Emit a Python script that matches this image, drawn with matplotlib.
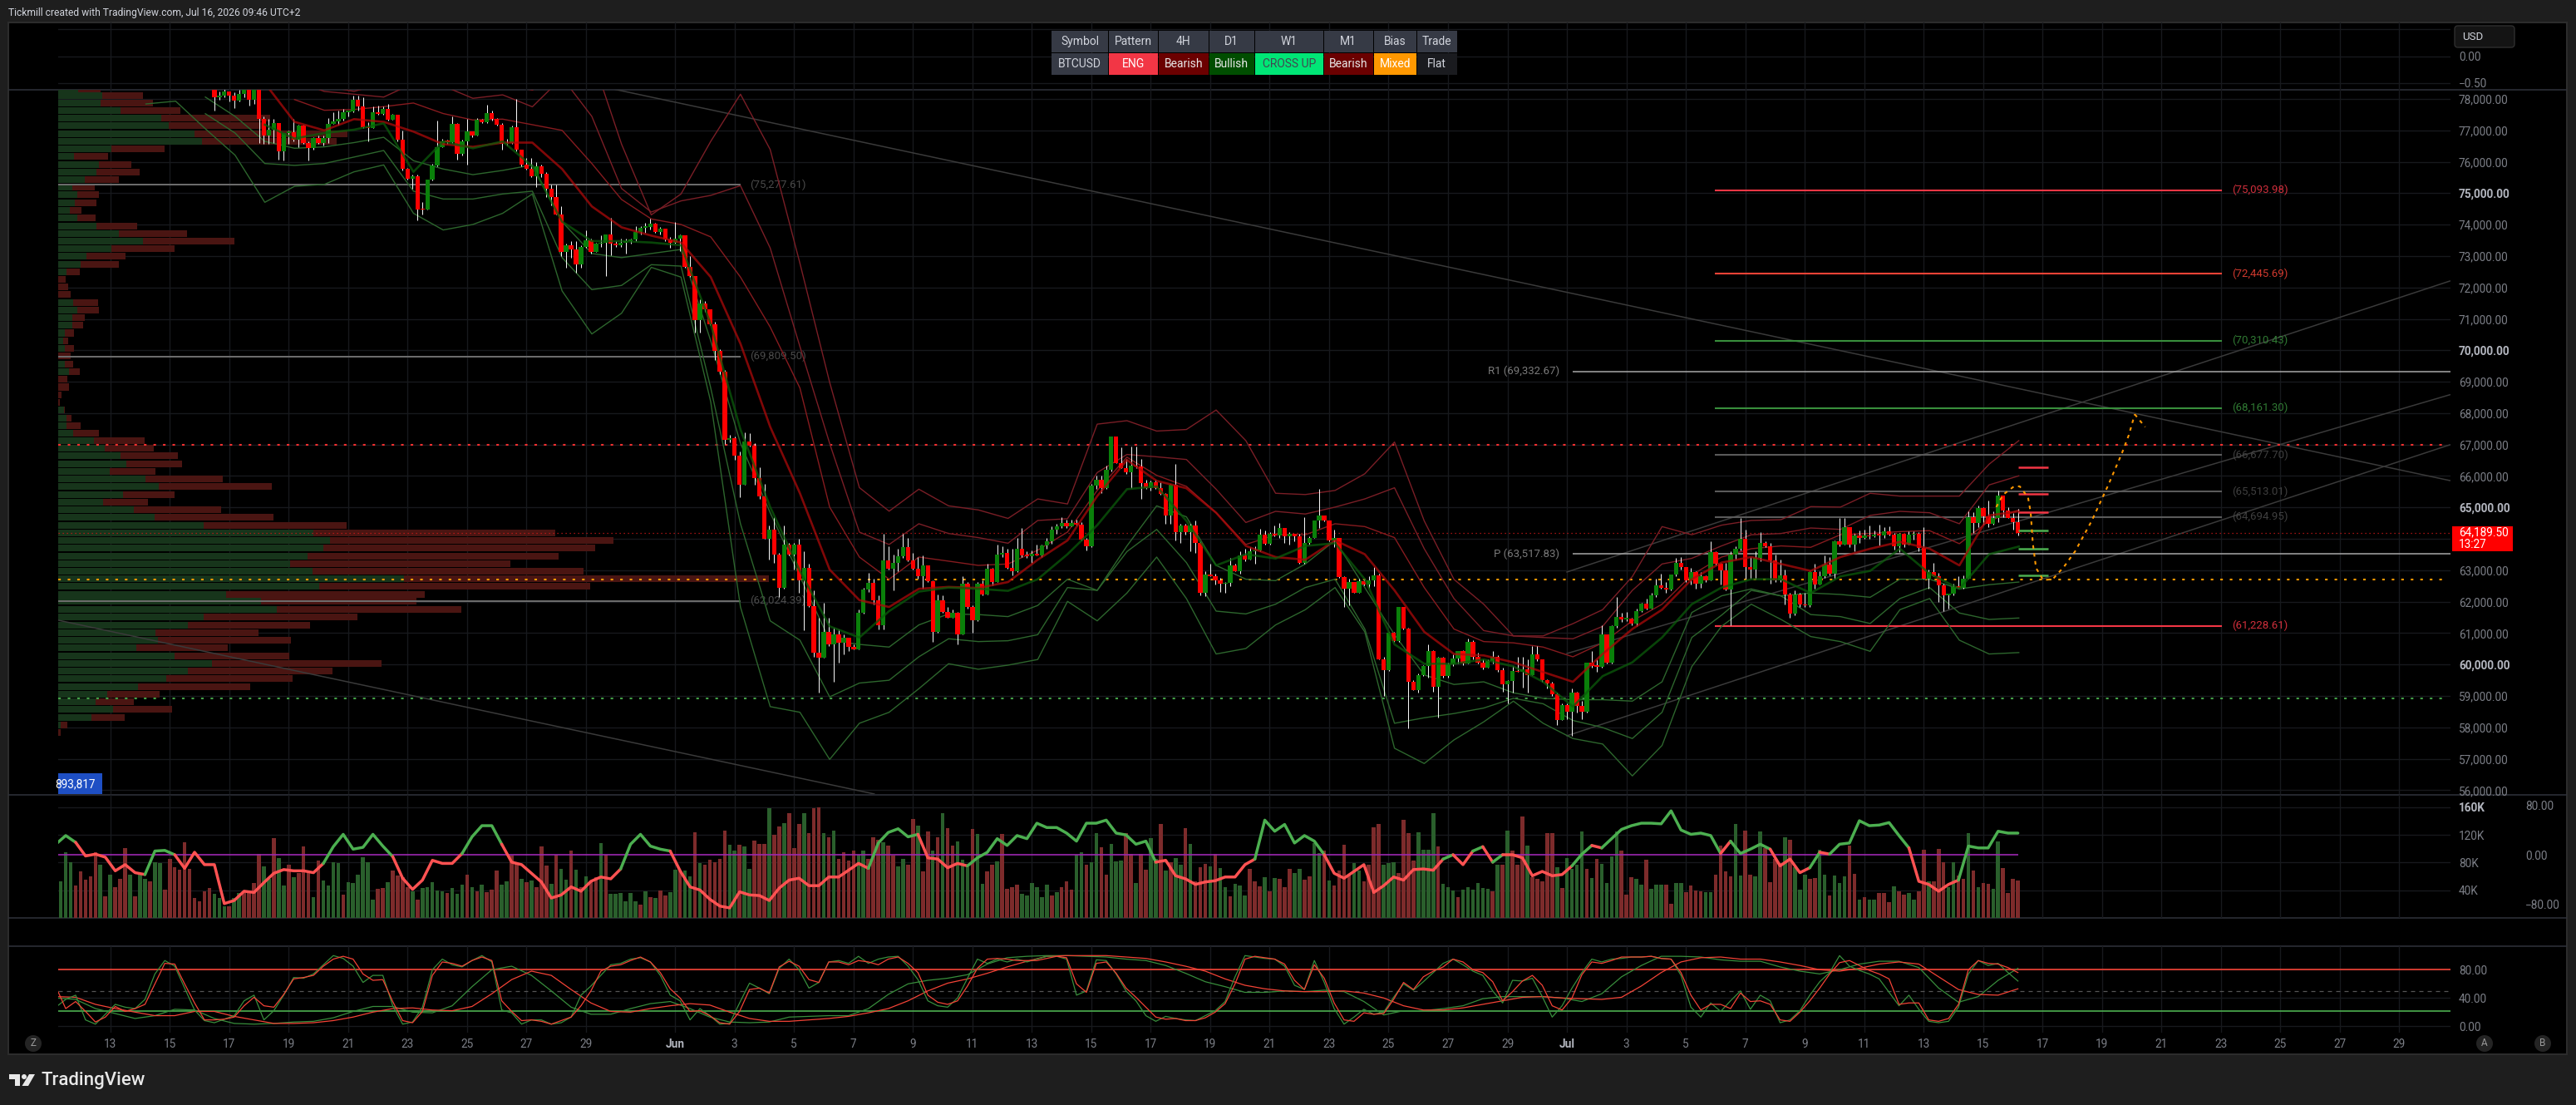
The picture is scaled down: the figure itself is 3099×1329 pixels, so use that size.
import numpy as np
import matplotlib
matplotlib.use('Agg')
import matplotlib.pyplot as plt
from matplotlib.patches import Rectangle, Circle, Polygon, FancyBboxPatch

nan = float('nan')

# BTCUSD 4H candles, prices in tens of USD. Opens follow the previous close.
first_open = 7831
close_1 = [7804,7811,7824,7811,7796,7815,7828,7797,7828,7736,7683,7703,7722,7634,7692,7693,7669,7714,7661,7643,7676,7661,7676,7720,7729,7737,7758,7759,7797,7775,7709,7707,7758,7752,7769,7734,7749,7669,7577,7546,7555,7449,7447,7543,7589,7646,7665,7663,7721,7625,7665,7696,7683,7734,7727,7755,7736,7718,7656,7661,7709,7639,7590,7579,7553,7586,7561,7515,7489,7431,7312,7334,7321,7274,7330,7349,7314,7339,7343,7368,7339,7334,7341,7348,7352,7376,7390,7392,7402,7376,7387,7352,7343,7355,7365,7266,7237,7096,7149,7130,7083,6999,6933,6714]
high_1 = [7833,7824,7833,7824,7820,7828,7833,7831,7831,7831,7745,7736,7736,7722,7692,7700,7736,7718,7718,7665,7678,7683,7683,7740,7758,7762,7767,7764,7811,7811,7806,7727,7775,7780,7775,7784,7753,7736,7700,7581,7559,7559,7471,7543,7594,7731,7674,7669,7745,7722,7669,7736,7696,7740,7736,7781,7762,7740,7722,7674,7714,7799,7639,7612,7612,7599,7590,7568,7528,7528,7458,7339,7348,7348,7334,7383,7356,7343,7365,7369,7422,7348,7356,7356,7356,7396,7396,7405,7418,7405,7392,7387,7361,7409,7369,7367,7299,7237,7162,7158,7131,7092,7004,6937]
low_1 = [7762,7797,7806,7793,7771,7793,7806,7780,7784,7661,7656,7656,7661,7608,7603,7656,7665,7647,7656,7603,7639,7656,7652,7661,7722,7718,7731,7745,7758,7762,7707,7665,7714,7749,7749,7731,7734,7665,7572,7542,7515,7414,7431,7462,7540,7586,7661,7656,7661,7608,7621,7590,7678,7683,7722,7722,7731,7714,7639,7652,7656,7634,7586,7575,7550,7519,7550,7489,7462,7431,7299,7264,7295,7246,7264,7326,7308,7312,7330,7237,7303,7330,7330,7308,7339,7348,7369,7374,7385,7374,7369,7348,7326,7339,7317,7264,7233,7056,7056,7123,7079,6968,6924,6703]

close_2 = [6720,6664,6573,6711,6697,6593,6534,6401,6430,6351,6245,6382,6351,6382,6267,6307,6185,6038,6023,6104,6064,6095]
high_2 = [6730,6726,6677,6739,6737,6704,6629,6576,6443,6470,6355,6443,6386,6386,6399,6360,6320,6236,6148,6197,6148,6117]
low_2 = [6708,6651,6532,6571,6693,6571,6527,6399,6333,6324,6214,6241,6346,6302,6227,6108,6183,6024,5910,6024,6060,5945]

close_3 = [6070,6086,6055,6049,6164,6238,6260,6205,6126,6331,6305,6323,6344,6373,6331,6305,6282,6316,6264,6104,6205,6166,6150,6164,6097,6258,6183,6142,6258,6223,6304,6263,6351,6355,6307,6298,6369,6346,6345,6353,6348,6379,6393,6428,6441,6450,6439,6450,6446,6397,6376,6570,6587,6561,6620,6726,6642,6626,6611,6633,6630,6578,6561,6580,6561,6543,6473,6571,6421,6443,6421,6442,6388,6227,6287,6282,6267,6256,6259,6316,6298,6346,6333,6360,6364,6413,6384,6417,6411,6435,6408,6417,6408,6324,6386,6404,6458,6474,6458,6395,6404,6278,6241,6263,6229,6264,6254,6267,6285,6017,5983,6100,6076,6182,6115,5945,5919,5967,5994,6042,5929,6023,5963,6001,6020,6042,6002,6073,6025,6005,5989,6011,6025,5982,5936,5947,5980,5976,5985,5967,6032,6016,5950,5941,5905,5824,5870,5850,5910,5868,5850,6005,5994,5993,6095,6005,6123,6152,6144,6146,6130,6170,6194,6179,6219,6252,6245]
high_3 = [6113,6095,6086,6064,6174,6245,6291,6272,6219,6417,6377,6351,6369,6417,6404,6355,6342,6346,6316,6267,6223,6220,6183,6174,6166,6280,6263,6188,6263,6267,6320,6307,6382,6377,6369,6369,6404,6435,6360,6364,6382,6382,6404,6439,6448,6470,6461,6461,6461,6452,6404,6576,6602,6602,6633,6726,6726,6690,6655,6695,6695,6655,6589,6585,6589,6580,6545,6576,6638,6448,6448,6448,6458,6391,6298,6320,6289,6276,6263,6338,6320,6360,6369,6373,6377,6432,6426,6421,6443,6450,6426,6421,6417,6417,6470,6408,6458,6558,6474,6456,6430,6399,6282,6272,6245,6272,6272,6280,6311,6289,6024,6104,6104,6183,6183,6117,5949,5971,5998,6064,6046,6024,6024,6007,6033,6042,6046,6082,6077,6038,6016,6016,6042,6029,5989,5949,5994,6024,6024,6016,6060,6060,6017,5954,5945,5910,5875,5875,5923,5914,5884,6007,6042,6016,6126,6095,6126,6214,6164,6166,6148,6179,6197,6210,6227,6272,6289]
low_3 = [6007,6033,6042,6047,6069,6161,6232,6192,6113,6113,6302,6236,6298,6338,6329,6302,6272,6241,6263,6073,6100,6164,6148,6148,6064,6095,6179,6100,6139,6219,6258,6252,6263,6342,6305,6285,6293,6342,6338,6324,6346,6342,6369,6384,6417,6435,6435,6443,6443,6395,6364,6373,6558,6545,6558,6615,6640,6624,6607,6561,6626,6527,6558,6554,6558,6540,6448,6448,6395,6386,6413,6360,6355,6219,6217,6280,6254,6232,6227,6249,6296,6289,6329,6338,6320,6360,6382,6382,6408,6404,6386,6382,6391,6320,6320,6382,6408,6435,6456,6391,6373,6276,6183,6188,6227,6227,6252,6245,6249,6016,5901,5980,6073,6073,6113,5797,5919,5910,5963,5958,5914,5830,5958,5958,5994,6002,5998,6002,6016,6002,5985,6002,6002,5976,5914,5876,5910,5976,5927,5910,5967,6011,5945,5923,5901,5808,5822,5826,5773,5848,5826,5848,5989,5976,5991,6002,6002,6117,6135,6139,6126,6121,6166,6174,6183,6214,6241]

close_4 = [6238,6286,6323,6311,6267,6294,6258,6282,6267,6358,6320,6300,6239,6351,6369,6399,6311,6302,6338,6386,6376,6331,6269,6285,6223,6161,6223,6190,6188,6293,6254,6280,6318,6289,6391,6382,6437,6382,6411,6402,6411,6408]
high_4 = [6263,6287,6340,6342,6309,6307,6298,6294,6285,6391,6360,6324,6324,6360,6377,6466,6430,6342,6360,6421,6391,6386,6351,6333,6302,6227,6236,6227,6227,6298,6320,6298,6346,6342,6395,6466,6466,6404,6417,6426,6430,6443]
low_4 = [6227,6236,6280,6302,6263,6254,6241,6245,6263,6267,6316,6254,6236,6126,6333,6364,6272,6272,6272,6329,6373,6258,6263,6263,6192,6148,6157,6183,6183,6183,6241,6263,6276,6285,6272,6377,6388,6373,6360,6386,6399,6399]

close_5 = [6413,6411,6423,6413,6377,6417,6382,6413,6417,6371,6274,6293,6282,6252,6219,6226,6247,6245,6274,6470,6451,6498,6471,6448,6466,6538,6491,6466,6454,6418.95]
high_5 = [6426,6445,6437,6441,6420,6420,6408,6424,6424,6421,6437,6302,6323,6291,6256,6226,6258,6282,6285,6488,6485,6505,6501,6522,6488,6554,6538,6501,6481,6496]
low_5 = [6406,6379,6404,6411,6367,6358,6373,6393,6397,6360,6274,6241,6280,6199,6170,6177,6219,6243,6241,6274,6420,6437,6444,6437,6446,6453,6470,6466,6430,6411]

# Envelope bands sampled once per day, USD
band_upper3 = [nan]*9 + [78410,78240,78500,78680,78500,78500,78500,78280,78860,79385,76560,74310,74975,76650,78150,76390,72770,68980,65630,64880,65580,65050,64920,64650,65270,65110,67650,67760,67430,67480,68100,67125,65450,65410,65540,66070,67080,64570,62710,61920,60910,60910,61300,61745,62800,64390,64130,64435,64585,64610,65025,65010,65450,65360,65360,65360,66375,67125]
band_upper2 = [nan]*8 + [78590,78240,78150,78060,78500,78415,78020,78130,77750,78680,77445,75150,74400,74755,74930,75240,73255,70120,67037,64215,63820,64480,64170,64040,63860,64585,64640,66110,66685,66610,66525,65580,64520,64875,64790,65010,65270,65625,63685,62100,61080,60910,60860,60820,61215,62360,63200,63380,63775,64130,64170,64345,64300,64745,64875,64830,64480,65715,66005]
band_upper1 = [nan]*8 + [77980,77640,77665,77755,77870,77535,77330,77357,77180,77000,75945,74800,74180,74005,73610,72330,70740,68800,65010,63420,62715,63420,63290,63155,63200,63640,64215,65540,66600,66020,65670,64830,63820,64130,64130,64480,64390,64040,62450,61130,60730,60690,60555,60245,60690,61390,61920,62850,63420,63685,63775,63730,64130,64170,64230,64260,63845,64570,64920]
band_red = [nan]*7 + [78503,77270,77000,77357,77270,76960,76560,76475,76610,76610,75770,74580,73915,73650,73430,72330,70210,67565,65450,63020,62050,61830,62410,62470,62435,62625,63335,63950,65360,66510,65845,65610,64830,63775,63420,63335,63950,63510,62360,61040,60335,60290,60070,59760,59450,60335,61130,61745,62715,63245,63420,63200,62980,63420,63685,63905,63685,63155,64745,64875]
band_green = [nan]*7 + [77180,76739,76915,77020,77225,75680,76650,76430,76650,75857,74093,73475,73475,73430,73343,70830,67480,65010,62980,61215,60860,61700,62320,62450,62410,62345,62715,63510,64435,65580,65670,64570,63155,63510,63375,63775,63860,62715,60640,60025,60025,60160,59940,59450,58660,59630,60070,60860,61920,62450,62715,62715,62275,62805,62980,63685,62890,62410,63510,63755]
band_lower1 = [nan]*5 + [78060,77445,76650,76430,76475,76610,76780,76035,75770,75590,75725,75900,74090,73080,72950,73080,73210,70300,67040,64830,62800,60775,60640,60555,61260,61610,61590,61525,61880,62715,62360,63775,65050,64700,63155,62715,62670,63200,63950,62450,60950,59670,59365,59450,59100,58925,58880,58880,58835,59450,61655,62185,62405,62185,62275,62230,62140,62715,62715,62405,62540,62625]
band_lower2 = [nan]*5 + [77530,76915,75945,75885,75945,76150,76360,75065,74815,74815,74975,75065,72950,71930,72065,72725,72680,68800,64480,61390,60775,58970,59410,59500,60245,60820,60730,60757,60950,62450,62360,63595,64300,63245,61700,61610,61920,62450,62715,61130,58130,58305,58440,58615,58925,58750,58220,57995,57645,58480,60860,61570,62360,62185,61590,61525,61305,62100,62450,61640,61435,61480]
band_lower3 = [nan]*3 + [77840,77930,77050,76210,74710,75220,75280,75680,75900,74360,73830,74005,74360,74975,71890,70520,71180,72640,72330,68360,61830,58660,58480,56980,58130,58480,59230,60025,59850,59980,60160,62010,61390,62275,63420,62100,60335,60510,61260,61745,62450,61040,57335,56850,57600,58175,58835,58130,57645,57470,56455,57425,59935,61215,61920,61435,60890,60730,60420,61745,62100,60775,60335,60380]

# Volume profile rows down the left side
profile_price = [78327,78115,77870,77630,77390,77145,76890,76650,76410,76175,75920,75670,75435,75185,74950,74700,74455,74215,73960,73715,73475,73240,72990,72745,72500,72260,72020,71775,71520,71280,71040,70795,70550,70310,70060,69815,69570,69320,69085,68830,68580,68340,68105,67830,67600,67365,67125,66880,66640,66385,66145,65910,65660,65405,65170,64930,64680,64425,64190,63950,63705,63450,63210,62970,62735,62495,62230,62020,61760,61505,61250,61010,60775,60530,60270,60035,59795,59560,59295,59055,58820,58570,58315,58075,57840]
profile_buy = [24,53,51,75,124,133,164,173,64,19,49,46,32,17,23,20,14,23,46,73,102,64,34,27,10,0,0,0,18,23,17,17,8,6,8,0,8,13,0,0,0,0,7,10,10,18,43,56,75,82,62,105,121,78,54,91,116,175,307,327,319,300,279,306,416,314,202,244,263,175,156,117,120,94,140,185,156,130,96,59,45,66,40,3,0]
profile_sell = [27,49,63,72,131,116,184,162,64,41,39,52,41,27,26,26,14,22,49,82,110,76,47,46,16,9,12,15,30,26,15,13,11,6,11,15,10,13,11,13,4,2,1,6,17,31,61,59,69,67,55,93,136,62,54,105,143,172,291,341,327,302,265,326,439,326,239,187,222,185,147,124,160,110,138,204,174,152,135,63,46,71,40,8,3]

# Signed 4H volume in thousands, negative for down bars
volume_k = [53,95,81,-47,-67,-55,-60,-95,77,-31,63,-45,-57,-101,63,-31,63,57,-53,81,79,-41,-85,-73,-70,-109,-71,-29,-24,-39,-43,35,29,17,-17,29,36,-39,-39,-51,-93,74,57,-115,87,47,-77,59,-65,-103,-69,30,-83,54,47,81,79,-34,52,50,63,88,81,27,-42,-43,52,-69,-61,-59,-45,38,-27,43,44,52,40,38,-36,43,35,48,-63,45,-38,48,-37,-41,-69,48,53,-90,-79,56,-52,54,-45,-103,-76,49,-91,71,55,-97,70,-45,60,-53,-59,108,-91,35,35,36,24,36,24,-19,39,-30,29,-40,-33,37,70,-68,69,60,-124,79,-77,-84,-80,-85,-126,106,97,-106,103,71,-112,-107,-107,158,-120,-132,137,-151,-101,-136,151,-122,-158,-160,123,-117,126,-85,-95,-83,-97,91,97,-85,-117,-113,109,-105,-90,75,
 85,-77,-143,133,-67,-125,97,-117,151,-130,-105,110,84,73,-129,121,49,-67,-77,82,-121,-42,-45,-48,35,33,51,45,30,48,-32,37,-45,-53,-41,91,95,-77,81,123,-102,-63,107,82,83,-123,-93,51,-93,-70,115,85,-136,69,-80,87,77,-130,107,-53,-73,-78,75,-92,72,45,-31,49,47,33,-71,-53,-46,59,-39,58,-56,-45,-71,65,71,-55,-60,108,94,-97,54,-47,-69,-106,-61,79,69,-53,-77,-131,-136,77,79,80,-65,-142,-123,-83,124,98,99,151,-103,49,45,40,-30,41,45,41,51,43,42,-39,77,-77,126,-97,-77,-147,104,-59,-57,-53,-123,-123,73,-43,86,71,77,125,-71,58,-85,78,50,89,125,-97,-34,-59,57,48,-84,42,48,48,-48,-20,50,51,-37,-47,-40,-39,37,37,-63,-104,-67,-60,136,61,-126,
 -63,60,125,-101,-52,-85,-79,117,-113,73,41,63,-57,-58,99,62,-33,61,50,60,-105,-64,26,-30,27,26,-36,-36,-23,46,-38,-34,36,27,-39,-99,53,-53,-100,-80,45,80,-61,-57,123,-69,45,-51,-49,42,110,-72,-36,-57,-54]

# Momentum oscillator, one value every second bar
osc_values = [17,31,20,-2,1,-4,-26,-16,-29,-32,6,7,0,-22,4,-16,-16,-79,-74,-59,-61,-45,-30,-24,-26,-26,-29,-14,13,33,9,12,33,14,-3,-38,-56,-41,-9,-14,-14,2,29,47,47,17,-12,-16,-30,-44,-70,-65,-52,-59,-43,-36,-39,-23,17,33,14,9,6,-26,-52,-57,-72,-83,-86,-60,-65,-66,-74,-54,-41,-38,-50,-50,-36,-36,-25,-14,-22,19,36,42,29,
 33,-5,-7,-21,-14,-18,-5,4,26,15,31,26,51,44,44,35,22,51,51,56,35,32,17,22,-12,-9,-34,-39,-48,-44,-42,-36,-36,-16,-7,56,38,49,19,31,22,0,-30,-38,-27,-16,-61,-50,-36,-41,-24,-23,-25,-7,0,-16,6,13,-12,0,0,-5,-34,-27,-34,-32,-18,1,15,11,26,41,47,51,51,50,71,40,33,35,31,2,22,2,
 9,17,9,-18,-7,-29,-21,4,1,17,19,55,47,48,52,31,11,-43,-48,-59,-48,-41,14,11,11,38,35,35]
osc_switch = [2,9,12,27,34,41,45,57,62,82,87,92,111,121,128,140,141,143,144,145,146,153,155,156,168,169,173,177,178,179,187,192]

# Stochastic lines
stoch_fast_green = [27,38,44,9,3,17,31,27,25,38,74,93,85,54,23,8,5,10,15,36,44,9,22,44,69,68,74,87,100,96,85,62,72,72,29,3,6,27,80,95,87,84,93,100,91,23,19,3,9,9,3,5,13,44,57,72,87,89,95,97,91,72,44,36,9,25,15,3,4,33,61,54,46,82,95,80,54,62,91,93,89,99,89,95,98,99,85,
 66,36,29,27,40,68,95,89,95,91,95,91,95,99,99,95,44,50,94,93,74,50,36,15,7,14,11,9,8,15,22,35,70,100,98,96,95,85,58,52,93,62,25,3,13,24,17,20,41,60,51,63,76,89,95,87,78,72,50,33,65,64,68,42,13,29,54,76,95,91,95,96,98,98,99,96,95,72,27,13,33,21,36,50,
 24,44,36,5,9,22,44,63,76,100,85,79,74,67,48,29,44,24,7,5,7,27,74,93,86,89,76,64]
stoch_fast_red = [56,25,35,21,6,13,28,21,25,31,60,89,88,60,33,9,9,10,13,29,41,29,27,45,67,69,72,85,95,99,95,74,65,66,35,8,5,21,72,91,89,85,93,98,93,36,21,8,9,7,3,8,13,29,50,78,85,87,93,98,91,76,53,40,21,22,15,5,3,21,52,54,47,84,92,85,66,62,91,91,87,93,91,87,95,98,89,
 76,44,34,31,36,57,82,95,96,95,93,93,93,96,99,97,60,48,89,91,75,54,41,27,13,10,11,8,8,12,20,32,60,95,99,97,95,88,65,52,87,68,33,9,7,19,17,18,38,62,52,70,78,84,95,91,80,76,63,36,49,64,72,58,29,23,40,73,91,89,93,98,98,98,99,96,95,76,44,23,31,31,25,47,
 35,36,31,9,7,20,36,54,74,90,93,86,79,74,67,31,33,33,9,7,11,31,80,93,89,88,83,76]
stoch_slow_green = [40,38,25,18,11,15,24,23,11,4,3,4,6,7,12,21,28,28,20,19,29,56,80,85,72,50,27,17,17,25,32,35,25,13,6,5,6,13,14,15,15,25,45,60,
 65,68,73,88,97,99,100,100,99,98,95,93,86,75,63,56,48,48,50,49,51,49,35,16,22,22,25,29,39,42,42,42,40,35,46,70,86,99,99,98,94,92,
 92,84,78,74,80,88,92,92,83,54,34,42,65,82]
stoch_slow_red = [42,41,31,25,20,15,15,21,21,14,9,4,4,5,8,13,20,25,26,23,22,28,46,66,78,72,52,33,21,20,25,29,32,30,20,11,7,7,9,11,14,19,25,36,
 50,61,67,75,84,92,99,100,100,100,98,96,91,85,78,67,58,53,50,49,49,50,47,40,29,23,23,26,31,36,41,42,40,39,38,41,57,76,91,97,98,95,
 95,91,86,80,78,82,88,91,88,70,52,45,44,53]

# Price levels and their captions
level_prices = [75093.98,72445.69,70310.43,68161.30,66677.70,65513.01,64694.95,61228.61]
level_colors = ['#f23645','#f44336','#388e3c','#388e3c','#5a5a5a','#5a5a5a','#5a5a5a','#f23645']
left_levels = [75277.61,69809.50,62024.39]
pivot_levels = [69332.67,63517.83]
pivot_names = ['R1','P']
target_ticks = [66290,65432,64859,64277,63685,62839]
target_colors = ['#f23645','#f23645','#f23645','#4caf50','#4caf50','#4caf50']
dotted_levels = [67000,62706,58925]

# Trend lines as (days, prices)
trend_days = [[29.98,91.7],[11.25,38.7],[62.0,91.7],[62.0,91.7],[62.0,91.7]]
trend_prices = [[78304,65855],[61410,55880],[62944,72205],[60351,68586],[57732,66993]]

# Projected path
path_days = [76.44,76.67,77.04,77.23,77.51,77.6,77.67,77.78,78.02,78.34,78.72,79.09,79.65,80.21,80.67,80.9,81.1]
path_prices = [65010,65405,65670,65670,65317,64832,63862,63070,62689,62715,63112,63597,64568,65714,66730,67302,67963]

# Summary table
table_head = ['Symbol','Pattern','4H','D1','W1','M1','Bias','Trade']
table_row = ['BTCUSD','ENG','Bearish','Bullish','CROSS UP','Bearish','Mixed','Flat']
table_fill = ['#363a45','#f23645','#6b0000','#004d00','#00e676','#6b0000','#ff9800','#1a1b1f']
table_text = ['#d1d4dc','#ffffff','#e8e8e8','#e8e8e8','#434651','#e8e8e8','#ffffff','#d1d4dc']
table_edges = [1265,1334,1394,1454.5,1510,1592.5,1653,1704.5,1754]

# Time axis: day number counted from May 1
tick_days = [13,15,17,19,21,23,25,27,29,32,34,36,38,40,42,44,46,48,50,52,54,56,58,60,62,64,66,68,70,72,74,76,78,80,82,84,86,88,90]
tick_names = ['13','15','17','19','21','23','25','27','29','Jun','3','5','7','9','11','13','15','17','19','21','23','25','27','29','Jul','3','5','7','9','11','13','15','17','19','21','23','25','27','29']

plt.rcParams['font.family'] = ['Roboto', 'DejaVu Sans']

W, H = 3099, 1329
LEFT, RIGHT = 70, 2948
day_left, day_right = 11.25, 91.72
last_day = 77.17
px_per_day = 35.77
GRID = '#17191d'
AXIS_TEXT = '#7c7f87'
BRIGHT_TEXT = '#b2b5be'

fig = plt.figure(figsize=(W/100, H/100), dpi=100, facecolor='#1e1e1e')

bg = fig.add_axes([0, 0, 1, 1], zorder=0)
bg.set_xlim(0, W)
bg.set_ylim(H, 0)
bg.set_axis_off()
bg.add_patch(Rectangle((10, 27), 3078, 1241, facecolor='black', edgecolor='#2c2c2c', lw=1.5))
bg.hlines([107.5, 955.5, 1104, 1138], 10, 3088, color='#2f323b', lw=1.1)


def make_pane(top, bottom, y_low, y_high):
    ax = fig.add_axes([LEFT/W, 1-bottom/H, (RIGHT-LEFT)/W, (bottom-top)/H], zorder=2, facecolor='none')
    ax.set_xlim(day_left, day_right)
    ax.set_ylim(y_low, y_high)
    for s in ax.spines.values():
        s.set_visible(False)
    ax.set_xticks(tick_days)
    ax.tick_params(axis='both', length=0, labelbottom=False, labelleft=False, labelright=True,
                   labelsize=9.8, labelcolor=AXIS_TEXT, pad=7.2)
    ax.grid(True, color=GRID, lw=1)
    ax.set_axisbelow(True)
    return ax


# top empty pane
ax_top = make_pane(27, 107.5, -0.6176, 0.63)
ax_top.set_yticks([0.5, 0, -0.5], ['', '0.00', '\u22120.50'])

# price pane, the 64,000 label sits under the last price tag
ax_price = make_pane(107.5, 955, 55878, 78304)
price_ticks = list(range(56000, 79000, 1000))
ax_price.set_yticks(price_ticks, ['' if p == 64000 else f'{p:,.2f}' for p in price_ticks])
for label, p in zip(ax_price.get_yticklabels(), price_ticks):
    if p % 5000 == 0:
        label.set_fontweight('bold')
        label.set_color(BRIGHT_TEXT)

# volume profile
prof_p = np.array(profile_price)
prof_b = np.array(profile_buy) / px_per_day
prof_s = np.array(profile_sell) / px_per_day
ax_price.barh(prof_p, prof_b, left=day_left, height=215, color='#17351b', zorder=1)
ax_price.barh(prof_p, prof_s, left=day_left+prof_b, height=215, color='#4a1512', zorder=1)

# trend lines
for d, p in zip(trend_days, trend_prices):
    ax_price.plot(d, p, color='#3a3a3a', lw=1.1, zorder=2)

# horizontal levels
ax_price.hlines(dotted_levels[0], day_left, 91.6, color='#f23030', lw=1.5, ls=(0, (1.5, 4)), zorder=3)
ax_price.hlines(dotted_levels[1], day_left, 91.6, color='#ff9800', lw=1.5, ls=(0, (1.5, 4)), zorder=3)
ax_price.hlines(dotted_levels[2], day_left, 91.6, color='#43a047', lw=1.5, ls=(0, (1.5, 4)), zorder=3)
ax_price.hlines(64189.5, day_left, day_right, color='#d01818', lw=0.9, ls=(0, (1, 3)), zorder=3)

for p in left_levels:
    ax_price.hlines(p, day_left, 34.2, color='#6e6e6e', lw=1.4, zorder=3)
    ax_price.text(34.52, p, f'({p:,.2f})', color='#4a4a4a', fontsize=9.5, va='center', ha='left', zorder=3)

for p, name in zip(pivot_levels, pivot_names):
    ax_price.hlines(p, 62.2, day_right, color='#a8a8a8', lw=1.1, zorder=3)
    ax_price.text(61.75, p, f'{name} ({p:,.2f})', color='#7a7a7a', fontsize=9.5, va='center', ha='right', zorder=3)

for p, c in zip(level_prices, level_colors):
    ax_price.hlines(p, 66.97, 84.04, color=c, lw=1.5, zorder=3)
    text_color = '#4a4a4a' if c == '#5a5a5a' else c
    ax_price.text(84.36, p, f'({p:,.2f})', color=text_color, fontsize=9.5, va='center', ha='left', alpha=0.85, zorder=3)

for p, c in zip(target_ticks, target_colors):
    ax_price.hlines(p, 77.17, 78.18, color=c, lw=1.8, zorder=6)

# envelope bands
band_days = 11.2 + np.arange(67)
for band in (band_upper3, band_upper2):
    ax_price.plot(band_days, band, color='#7a1e26', lw=1.0, zorder=4)
ax_price.plot(band_days, band_upper1, color='#861b1f', lw=1.0, zorder=4)
for band in (band_lower1, band_lower2, band_lower3):
    ax_price.plot(band_days, band, color='#2d662d', lw=1.0, zorder=4)

# candles
closes, highs, lows = [], [], []
for c, h, l in [(close_1, high_1, low_1), (close_2, high_2, low_2), (close_3, high_3, low_3),
                (close_4, high_4, low_4), (close_5, high_5, low_5)]:
    m = min(len(c), len(h), len(l))
    closes += c[:m]
    highs += h[:m]
    lows += l[:m]
closes = np.array(closes) * 10.0
highs = np.array(highs) * 10.0
lows = np.array(lows) * 10.0
opens = np.concatenate(([first_open * 10.0], closes[:-1]))
highs = np.maximum(highs, np.maximum(opens, closes))
lows = np.minimum(lows, np.minimum(opens, closes))
bar_days = last_day - (len(closes) - 1 - np.arange(len(closes))) / 6.0
body_low = np.minimum(opens, closes)
body_size = np.maximum(np.abs(closes - opens), 40)
body_color = np.where(closes >= opens, '#0a800a', '#ff0000')
ax_price.vlines(bar_days, lows, highs, color='white', lw=0.7, zorder=5)
ax_price.bar(bar_days, body_size, bottom=body_low, width=0.15, color=body_color, zorder=5.5)

# thick bands sit over the candles
ax_price.plot(band_days, band_red, color='#ac0a0a', lw=1.9, alpha=0.75, zorder=6)
ax_price.plot(band_days, band_green, color='#0b5c0b', lw=1.9, alpha=0.75, zorder=6)

# projected path with arrow head
ax_price.plot(path_days, path_prices, color='#ff9800', lw=1.5, ls=(0, (2, 2.6)), zorder=7)
ax_price.plot([path_days[-1], 81.45], [path_prices[-1], 67560], color='#ff9800', lw=1.5, ls=(0, (2, 2.6)), zorder=7)

# volume and oscillator pane
ax_vol = make_pane(955.5, 1104, 0, 178.3)
vols = np.array(volume_k)
vol_days = last_day - (len(vols) - 1 - np.arange(len(vols))) / 6.0
ax_vol.bar(vol_days, np.abs(vols), width=0.128, color=np.where(vols > 0, '#2a5f2c', '#7d2b2b'), zorder=2)

ax_osc = ax_vol.twinx()
ax_osc.set_ylim(-102.2, 97.5)
for s in ax_osc.spines.values():
    s.set_visible(False)
ax_osc.set_yticks([80, 0, -80], ['80.00', '0.00', '\u221280.00'])
ax_osc.tick_params(axis='y', length=0, labelsize=9.8, labelcolor=AXIS_TEXT, pad=64.8)
ax_osc.grid(False)
ax_osc.hlines(0, day_left, last_day, color='#9c27b0', lw=1.2, zorder=3)
osc = np.array(osc_values, dtype=float)
osc_days = last_day - (len(osc) - 1 - np.arange(len(osc))) / 3.0
edges = [0] + osc_switch + [len(osc) - 1]
for i in range(len(edges) - 1):
    a, b = edges[i], min(edges[i+1], len(osc) - 1)
    col = '#4caf50' if i % 2 == 0 else '#ff5252'
    ax_osc.plot(osc_days[a:b+1], osc[a:b+1], color=col, lw=2.5, solid_capstyle='round', zorder=4)

# twinx moves the volume scale to the left, put it back
ax_vol.yaxis.tick_right()
vol_ticks = [40, 80, 120, 160]
ax_vol.set_yticks(vol_ticks, ['40K', '80K', '120K', '160K'])
ax_vol.tick_params(axis='y', length=0, labelsize=9.8, labelcolor=AXIS_TEXT, pad=7.2, labelright=True, labelleft=False)
ax_vol.get_yticklabels()[-1].set_fontweight('bold')
ax_vol.get_yticklabels()[-1].set_color(BRIGHT_TEXT)

# stochastic pane
ax_st = make_pane(1138, 1241.6, -8.6, 113.3)
ax_st.set_yticks([0, 40, 80], ['0.00', '40.00', '80.00'])
ax_st.set_xticks(tick_days, tick_names)
ax_st.tick_params(axis='x', labelbottom=True, pad=5.4)
for label in ax_st.get_xticklabels():
    if label.get_text() in ('Jun', 'Jul'):
        label.set_fontweight('bold')
        label.set_color(BRIGHT_TEXT)
ax_st.axhline(80, color='#f44336', lw=1.2, zorder=2)
ax_st.axhline(22, color='#4caf50', lw=1.2, zorder=2)
ax_st.axhline(50, color='#555555', lw=0.9, ls=(0, (4, 4)), zorder=2)


def stoch_days(values, step):
    n = len(values)
    return last_day - (n - 1 - np.arange(n)) * step


ax_st.plot(stoch_days(stoch_slow_green, 2/3.0), stoch_slow_green, color='#388e3c', lw=0.9, zorder=3)
ax_st.plot(stoch_days(stoch_slow_red, 2/3.0), stoch_slow_red, color='#f44336', lw=0.9, zorder=3)
ax_st.plot(stoch_days(stoch_fast_green, 1/3.0), stoch_fast_green, color='#388e3c', lw=0.9, zorder=3)
ax_st.plot(stoch_days(stoch_fast_red, 1/3.0), stoch_fast_red, color='#f44336', lw=0.9, zorder=3)

# overlay for table, tags, header and logo
fg = fig.add_axes([0, 0, 1, 1], zorder=5)
fg.set_xlim(0, W)
fg.set_ylim(H, 0)
fg.set_axis_off()
fg.patch.set_alpha(0)

fg.text(10, 15.5, 'Tickmill created with TradingView.com, Jul 16, 2026 09:46 UTC+2', color='#d1d4dc', fontsize=8.7, va='center')

for i in range(len(table_head)):
    x0, x1 = table_edges[i], table_edges[i+1] - 1
    fg.add_patch(Rectangle((x0, 37), x1-x0, 26, facecolor='#363a45', lw=0))
    fg.text((x0+x1)/2, 50, table_head[i], color='#d1d4dc', fontsize=10, ha='center', va='center')
    fg.add_patch(Rectangle((x0, 64), x1-x0, 26, facecolor=table_fill[i], lw=0))
    fg.text((x0+x1)/2, 77, table_row[i], color=table_text[i], fontsize=10, ha='center', va='center')

fg.add_patch(FancyBboxPatch((2955, 33), 68, 22, boxstyle='round,pad=2,rounding_size=4', facecolor='#141414', edgecolor='#2e2e2e', lw=1))
fg.text(2962, 44, 'USD', color='#d1d4dc', fontsize=9.5, va='center')

# last price tag
fg.add_patch(Rectangle((2950, 633), 73, 30, facecolor='#ff0000', lw=0))
fg.text(2958, 640.7, '64,189.50', color='white', fontsize=9.8, va='center')
fg.text(2958, 654.7, '13:27', color='white', fontsize=9.8, va='center')

# visible-range volume badge
badge = Rectangle((70, 930), 53, 25, facecolor='#1e4fc4', lw=0)
fg.add_patch(badge)
badge_text = fg.text(115, 943, '893,817', color='white', fontsize=9.8, ha='right', va='center')
badge_text.set_clip_path(badge)

for x, name in [(40, 'Z'), (2989, 'A'), (3059, 'B')]:
    fg.add_patch(Circle((x, 1255), 10, facecolor='#242424', lw=0))
    fg.text(x, 1255, name, color='#9a9a9a', fontsize=8.5, ha='center', va='center')

# logo
fg.add_patch(Polygon([(10.5, 1292), (24, 1292), (24, 1306), (17.5, 1306), (17.5, 1297.5), (10.5, 1297.5)], facecolor='#e8e8e8', lw=0))
fg.add_patch(Circle((29, 1295), 3, facecolor='#e8e8e8', lw=0))
fg.add_patch(Polygon([(35, 1292), (42, 1292), (34, 1306), (26.5, 1306)], facecolor='#e8e8e8', lw=0))
fg.text(50, 1299, 'TradingView', color='#e8e8e8', fontsize=16, fontweight='medium', va='center')

fig.savefig('out.png', dpi=100, facecolor=fig.get_facecolor())
